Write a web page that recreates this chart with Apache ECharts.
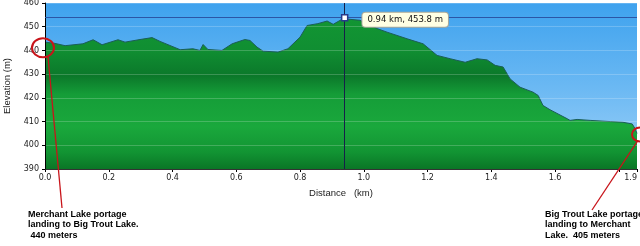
<!DOCTYPE html>
<html><head><meta charset="utf-8">
<script src="https://cdn.jsdelivr.net/npm/echarts@6/dist/echarts.min.js"></script>
<style>html,body{margin:0;padding:0;background:#fff}#c{width:640px;height:246px}</style>
</head><body><div id="c"></div>
<script>
// Distance along portage (km)
const distanceKm = [0, 0.03, 0.063, 0.119, 0.151, 0.179, 0.229, 0.251, 0.298, 0.336, 0.361, 0.424, 0.464, 0.486, 0.496, 0.511, 0.555, 0.587, 0.627, 0.643, 0.665, 0.684, 0.731, 0.762, 0.8, 0.822, 0.856, 0.885, 0.904, 0.935, 0.94, 0.988, 1.042, 1.073, 1.136, 1.186, 1.23, 1.271, 1.318, 1.355, 1.387, 1.412, 1.437, 1.459, 1.49, 1.531, 1.547, 1.562, 1.584, 1.638, 1.647, 1.669, 1.71, 1.773, 1.813, 1.842, 1.851, 1.857];
// Elevation (m)
const elevationM = [443.5, 443.0, 442.0, 442.8, 444.5, 442.4, 444.5, 443.5, 444.6, 445.4, 443.8, 440.3, 440.7, 440.0, 442.5, 440.4, 440.0, 442.8, 444.6, 444.2, 441.4, 439.7, 439.3, 440.7, 445.6, 450.5, 451.3, 452.4, 451.0, 453.4, 453.8, 452.7, 449.2, 447.7, 444.9, 442.8, 437.9, 436.5, 435.0, 436.5, 436.0, 433.7, 433.0, 428.0, 424.5, 422.4, 421.0, 416.8, 415.0, 411.2, 410.5, 410.9, 410.5, 410.0, 409.7, 409.0, 407.0, 405.0];
// Highlighted point (tooltip)
const cursorPoint = [0.94, 453.8];
const cursorLabel = '0.94 km, 453.8 m';
// Annotated endpoints
const startPoint = [0, 442];
const endPoint = [1.857, 405];
const startNote = ['Merchant Lake portage', 'landing to Big Trout Lake.', ' 440 meters'];
const endNote = ['Big Trout Lake portage', 'landing to Merchant', 'Lake.  405 meters'];
// Axis settings
const yMin = 390, yMax = 460, yStep = 10;
const xMin = 0, xMax = 1.857, xStep = 0.2;
const xHiddenTick = 1.8;

const chart = echarts.init(document.getElementById('c'), null, {renderer: 'canvas'});
const tickFont = {fontFamily: 'DejaVu Sans', fontSize: 8, color: '#222'};
const option = {
  animation: false,
  grid: {
    left: 45, right: 3, top: 3, bottom: 77, show: true, borderWidth: 0,
    containLabel: false, outerBoundsMode: 'none',
    backgroundColor: {type: 'linear', x: 0, y: 0, x2: 0, y2: 1, colorStops: [
      {offset: 0, color: '#3ea2ee'}, {offset: 0.5, color: '#6ab8f3'}, {offset: 1, color: '#9fd2f8'}]}
  },
  xAxis: {
    type: 'value', min: xMin, max: xMax, interval: xStep,
    name: 'Distance   (km)', nameLocation: 'middle', nameGap: 19,
    nameTextStyle: {fontFamily: 'Liberation Sans', fontSize: 9.5, color: '#222'},
    axisLine: {show: true, lineStyle: {color: '#000', width: 1}},
    axisTick: {show: true, length: 3, lineStyle: {color: '#000'}},
    axisLabel: Object.assign({margin: 5, alignMaxLabel: 'right', showMaxLabel: true,
      formatter: v => Math.abs(v - xHiddenTick) < 1e-6 ? '' : v.toFixed(1)}, tickFont),
    splitLine: {show: false}
  },
  yAxis: {
    type: 'value', min: yMin, max: yMax, interval: yStep, z: 3,
    name: 'Elevation (m)', nameLocation: 'middle', nameGap: 32,
    nameTextStyle: {fontFamily: 'Liberation Sans', fontSize: 9.5, color: '#222'},
    axisLine: {show: true, lineStyle: {color: '#000', width: 1}},
    axisTick: {show: true, length: 3, lineStyle: {color: '#000'}},
    axisLabel: Object.assign({margin: 6}, tickFont),
    splitLine: {show: true, lineStyle: {color: 'rgba(255,255,255,0.2)', width: 1}}
  },
  series: [{
    type: 'line', data: distanceKm.map((d, i) => [d, elevationM[i]]),
    showSymbol: false, symbol: 'none', z: 2,
    lineStyle: {color: '#1b5d58', width: 1},
    areaStyle: {opacity: 1, color: {type: 'linear', x: 0, y: 0, x2: 0, y2: 169, global: true, colorStops: [
      {offset: 0.10, color: '#129633'},
      {offset: 0.30, color: '#108e32'},
      {offset: 0.45, color: '#0b782a'},
      {offset: 0.56, color: '#159d38'},
      {offset: 0.75, color: '#1aa83c'},
      {offset: 0.90, color: '#129433'},
      {offset: 1.00, color: '#0a7626'}]}},
    markLine: {
      silent: true, symbol: 'none', animation: false, label: {show: false},
      data: [
        {xAxis: cursorPoint[0], lineStyle: {color: '#16204a', width: 1, type: 'solid'}},
        {yAxis: cursorPoint[1], lineStyle: {color: '#2b55a6', width: 1.2, type: 'solid'}}
      ]
    },
    markPoint: {
      silent: true, animation: false,
      data: [{coord: cursorPoint, symbol: 'rect', symbolSize: 6,
        itemStyle: {color: '#ffffff', borderColor: '#263a8c', borderWidth: 1.5},
        label: {show: true, position: 'right', distance: 14, offset: [0, 2], formatter: cursorLabel,
          fontFamily: 'DejaVu Sans', fontSize: 8.5, color: '#111',
          backgroundColor: '#ffffe3', borderColor: '#a8a89a', borderWidth: 1, borderRadius: 3,
          padding: [3, 5, 2, 5]}}]
    }
  }]
};
chart.setOption(option);

const p0 = chart.convertToPixel({gridIndex: 0}, startPoint);
const p1 = chart.convertToPixel({gridIndex: 0}, endPoint);
const red = '#c8141a';
const noteFont = 'bold 9px "Liberation Sans", Arial, sans-serif';
chart.setOption({graphic: [
  {type: 'ellipse', shape: {cx: p0[0] - 2, cy: p0[1] + 2, rx: 11, ry: 9.5}, style: {fill: 'none', stroke: red, lineWidth: 2}, z: 100},
  {type: 'line', shape: {x1: p0[0] + 3, y1: p0[1] + 11, x2: 62, y2: 208}, style: {stroke: red, lineWidth: 1.3}, z: 100},
  {type: 'ellipse', shape: {cx: p1[0] + 3, cy: p1[1] + 1, rx: 8, ry: 7}, style: {fill: 'none', stroke: red, lineWidth: 2}, z: 100},
  {type: 'line', shape: {x1: p1[0] + 1, y1: p1[1] + 7, x2: 592, y2: 210}, style: {stroke: red, lineWidth: 1.3}, z: 100},
  {type: 'text', left: 28, top: 209, style: {text: startNote.join('\n'), font: noteFont, fill: '#000', lineHeight: 10.5}, z: 100},
  {type: 'text', left: 545, top: 209, style: {text: endNote.join('\n'), font: noteFont, fill: '#000', lineHeight: 10.5}, z: 100}
]});
</script>
</body></html>
